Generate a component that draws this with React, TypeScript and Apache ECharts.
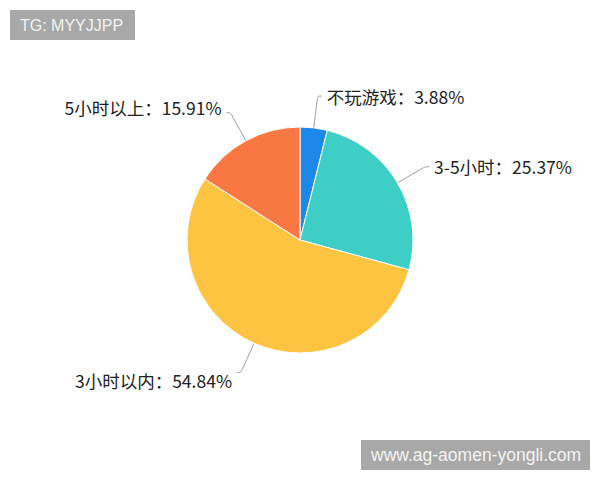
import { useEffect, useRef } from 'react';
import * as echarts from 'echarts';

// chart data
const categories = ['不玩游戏', '3-5小时', '3小时以内', '5小时以上'];
const percents = [3.88, 25.37, 54.84, 15.91];
const colors = ['#1E88E8', '#3DCEC6', '#FDC441', '#F87743'];

export default function App() {
  const chartRef = useRef<HTMLDivElement>(null);

  useEffect(() => {
    if (!chartRef.current) return;
    document.body.style.margin = '0';
    const chart = echarts.init(chartRef.current, null, { renderer: 'svg' });

    const option: echarts.EChartsOption = {
      animation: false,
      backgroundColor: '#ffffff',
      textStyle: { fontFamily: '"Noto Sans CJK SC", "Noto Sans", sans-serif' },
      series: [
        {
          type: 'pie',
          center: [300, 240],
          radius: 113,
          startAngle: 90,
          clockwise: true,
          data: categories.map((name, i) => ({
            name,
            value: percents[i],
            itemStyle: { color: colors[i] },
          })),
          itemStyle: {
            borderColor: '#ffffff',
            borderWidth: 1,
          },
          label: {
            show: true,
            formatter: (p: any) => `${p.name}：${percents[p.dataIndex].toFixed(2)}%`,
            color: '#222222',
            fontSize: 17.5,
            fontFamily: '"Noto Sans CJK SC", sans-serif',
          },
          labelLine: {
            show: true,
            length: 32,
            length2: 4,
            smooth: true,
            lineStyle: { color: '#9a9a9a', width: 1 },
          },
          // the lower-left label sits a little below its line, the upper-left a little above
          labelLayout: (params: any) => {
            if (params.dataIndex === 2) return { dy: 8 };
            if (params.dataIndex === 3) return { dy: -5 };
            return {};
          },
          emphasis: { disabled: true },
        },
      ],
      graphic: [
        {
          type: 'group',
          left: 10,
          top: 10,
          children: [
            {
              type: 'rect',
              shape: { x: 0, y: 0, width: 125, height: 30 },
              style: { fill: '#a8a8a8' },
            },
            {
              type: 'text',
              x: 10,
              y: 15,
              style: {
                text: 'TG: MYYJJPP',
                fill: '#f4f4f4',
                font: '16px "Liberation Sans", Arial, sans-serif',
                textVerticalAlign: 'middle',
              },
            },
          ],
        },
        {
          type: 'group',
          left: 361,
          top: 440,
          children: [
            {
              type: 'rect',
              shape: { x: 0, y: 0, width: 229, height: 30 },
              style: { fill: '#a8a8a8' },
            },
            {
              type: 'text',
              x: 10,
              y: 15,
              style: {
                text: 'www.ag-aomen-yongli.com',
                fill: '#f4f4f4',
                font: '17.5px "Liberation Sans", Arial, sans-serif',
                textVerticalAlign: 'middle',
              },
            },
          ],
        },
      ],
    };

    chart.setOption(option);
    return () => {
      chart.dispose();
    };
  }, []);

  return (
    <div
      ref={chartRef}
      style={{ position: 'absolute', left: 0, top: 0, width: '600px', height: '480px' }}
    />
  );
}
